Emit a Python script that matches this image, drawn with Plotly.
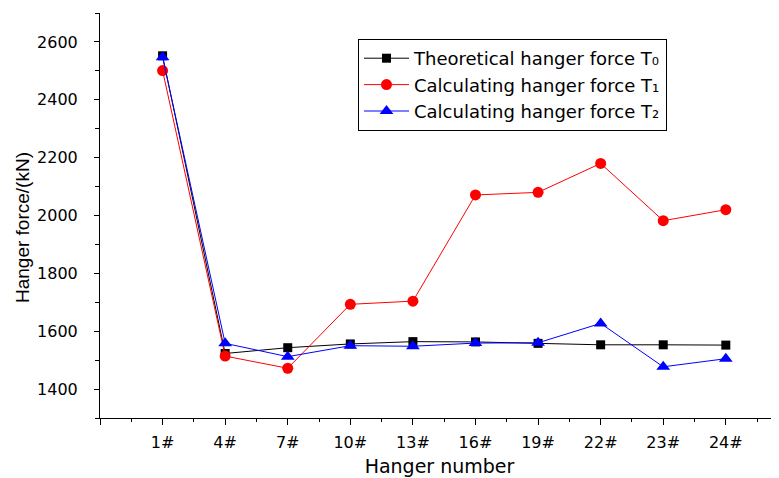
import plotly.graph_objects as go

hangers = ["1#", "4#", "7#", "10#", "13#", "16#", "19#", "22#", "23#", "24#"]
theoretical_T0 = [2552, 1523, 1543, 1556, 1564, 1563, 1558, 1553, 1553, 1552]
calculating_T1 = [2501, 1514, 1472, 1693, 1704, 2071, 2080, 2180, 1982, 2020]
calculating_T2 = [2547, 1558, 1512, 1550, 1548, 1559, 1560, 1627, 1477, 1505]
series_names = [
    "Theoretical hanger force T\u2080",
    "Calculating hanger force T\u2081",
    "Calculating hanger force T\u2082",
]

positions = list(range(1, len(hangers) + 1))

font_family = "DejaVu Sans, sans-serif"
arial = "Liberation Sans, Arial, sans-serif"

fig = go.Figure()
fig.add_trace(go.Scatter(
    x=positions, y=theoretical_T0, mode="lines+markers",
    name=series_names[0],
    line=dict(color="black", width=1),
    marker=dict(symbol="square", size=9, color="black"),
))
fig.add_trace(go.Scatter(
    x=positions, y=calculating_T1, mode="lines+markers",
    name=series_names[1],
    line=dict(color="red", width=1),
    marker=dict(symbol="circle", size=11, color="red"),
))
fig.add_trace(go.Scatter(
    x=positions, y=calculating_T2, mode="lines+markers",
    name=series_names[2],
    line=dict(color="blue", width=1),
    marker=dict(symbol="triangle-up", size=12, color="blue"),
))

# page body has an 8px default margin; size the figure to fill the rest
OFF = 8
W, H = 779 - OFF, 478 - OFF
L, R, T, B = 100 - OFF, 0, 13 - OFF, 60
pw = W - L - R
ph = H - T - B

def px_to_paper_x(xp):
    return (xp - OFF - L) / pw

def px_to_paper_y(yp):
    return 1 - (yp - OFF - T) / ph

fig.update_layout(
    width=W, height=H,
    margin=dict(l=L, r=R, t=T, b=B, autoexpand=False),
    plot_bgcolor="white", paper_bgcolor="white",
    font=dict(family=font_family, size=16, color="black"),
    showlegend=True,
    legend=dict(
        x=px_to_paper_x(358), y=px_to_paper_y(39),
        xanchor="left", yanchor="top",
        bordercolor="black", borderwidth=1, bgcolor="white",
        font=dict(size=18, family=font_family),
        tracegroupgap=0, itemwidth=45,
    ),
    annotations=[dict(
        text="Hanger force/(kN)", textangle=-90,
        xref="paper", yref="paper",
        x=px_to_paper_x(22), y=px_to_paper_y(228),
        xanchor="center", yanchor="middle", showarrow=False,
        font=dict(size=19, family=arial),
    )],
)

fig.update_xaxes(
    range=[0, 10.85],
    tickvals=[0] + positions, ticktext=[""] + hangers,
    showline=True, linecolor="black", linewidth=1,
    showgrid=False, zeroline=False, automargin=False,
    ticks="outside", ticklen=6, tickcolor="black", tickwidth=1,
    ticklabelstandoff=4,
    minor=dict(tick0=0.5, dtick=1, ticks="outside", ticklen=3, tickcolor="black", showgrid=False),
    tickfont=dict(size=16),
    title=dict(text="Hanger number", font=dict(size=19), standoff=8),
)
fig.update_yaxes(
    range=[1300, 2700],
    tick0=1400, dtick=200,
    showline=True, linecolor="black", linewidth=1,
    showgrid=False, zeroline=False, automargin=False,
    ticks="outside", ticklen=5, tickcolor="black", tickwidth=1,
    ticklabelstandoff=13,
    minor=dict(tick0=1300, dtick=100, ticks="outside", ticklen=4, tickcolor="black", showgrid=False),
    tickfont=dict(size=16),
)

fig.write_html("out.html")
